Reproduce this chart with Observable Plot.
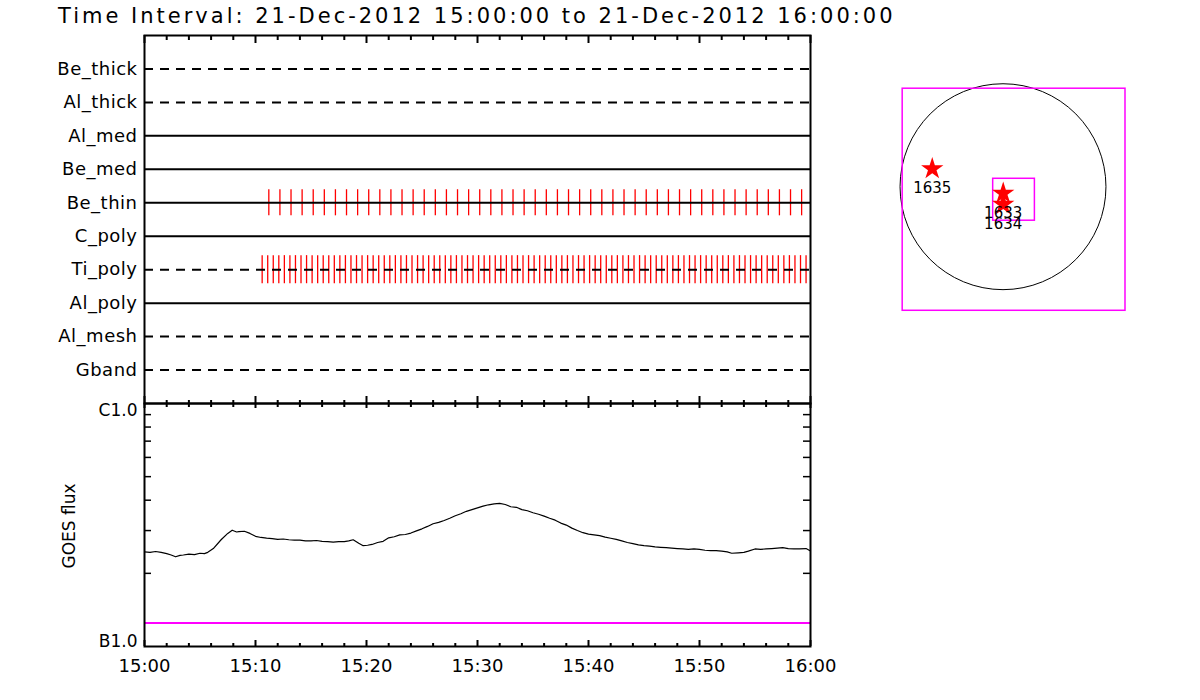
<!DOCTYPE html>
<html><head><meta charset="utf-8">
<script src="https://cdn.jsdelivr.net/npm/d3@7"></script>
<script src="https://cdn.jsdelivr.net/npm/@observablehq/plot@0.6"></script>
<style>
body{margin:0;background:#fff;}
#wrap{position:relative;width:1200px;height:700px;overflow:hidden;font-family:"DejaVu Sans";background:#fff;}
#title{position:absolute;left:58px;top:6px;font-size:21px;line-height:21px;letter-spacing:3px;white-space:nowrap;color:#000;font-family:"DejaVu Sans";}
.layer{position:absolute;}
.layer svg{overflow:visible;}
</style></head><body>
<div id="wrap"><div id="title"></div></div>
<script>
// ---------------- data ----------------
const titleText = "Time Interval: 21-Dec-2012 15:00:00 to 21-Dec-2012 16:00:00";
const filters = ["Be_thick","Al_thick","Al_med","Be_med","Be_thin","C_poly","Ti_poly","Al_poly","Al_mesh","Gband"];
const dashedFilters = ["Be_thick","Al_thick","Ti_poly","Al_mesh","Gband"];
// exposure times, minutes after 15:00
const beThinMinutes = [11.2,12.2,13.2,14.2,15.2,16.2,17.2,18.2,19.2,20.2,21.2,22.2,23.2,24.2,25.2,26.2,27.2,28.2,29.2,30.2,31.2,32.2,33.2,34.2,35.2,36.2,37.2,38.2,39.2,40.2,41.2,42.2,43.2,44.2,45.2,46.2,47.2,48.2,49.2,50.2,51.2,52.2,53.2,54.2,55.2,56.2,57.2,58.2,59.2];
const tiPolyMinutes = [10.6,11.1,11.6,12.1,12.6,13.1,13.6,14.1,14.6,15.1,15.6,16.1,16.6,17.1,17.6,18.1,18.6,19.1,19.6,20.1,20.6,21.1,21.6,22.1,22.6,23.1,23.6,24.1,24.6,25.1,25.6,26.1,26.6,27.1,27.6,28.1,28.6,29.1,29.6,30.1,30.6,31.1,31.6,32.1,32.6,33.1,33.6,34.1,34.6,35.1,35.6,36.1,36.6,37.1,37.6,38.1,38.6,39.1,39.6,40.1,40.6,41.1,41.6,42.1,42.6,43.1,43.6,44.1,44.6,45.1,45.6,46.1,46.6,47.1,47.6,48.1,48.6,49.1,49.6,50.1,50.6,51.1,51.6,52.1,52.6,53.1,53.6,54.1,54.6,55.1,55.6,56.1,56.6,57.1,57.6,58.1,58.6,59.1,59.6];
const xMajorMinutes = [0,10,20,30,40,50,60];
const xTickLabels = ["15:00","15:10","15:20","15:30","15:40","15:50","16:00"];
const xMinorMinutes = [2,4,6,8,12,14,16,18,22,24,26,28,32,34,36,38,42,44,46,48,52,54,56,58];
// GOES flux
const goesMinutes = [0,0.5,1,1.5,2,2.4,2.8,3.2,3.5,4,4.5,5,5.4,5.7,6.2,6.9,7.5,7.9,8.3,8.5,9,9.5,10,10.5,11,11.5,12,12.5,13,13.5,14,14.5,15,15.5,16,16.5,17,17.5,18,18.4,18.8,19.3,19.7,20.1,20.5,21,21.5,22,22.5,23,23.5,24,24.5,25,25.5,26,26.5,27,27.5,28,28.5,29,29.5,30,30.5,31,31.5,32,32.5,33,33.5,34,34.5,35,35.5,36,36.5,37,37.5,38,38.5,39,39.5,40,40.5,41,41.5,42,42.5,43,43.5,44,44.5,45,45.5,46,46.5,47,47.5,48,48.5,49,49.5,50,50.5,51,51.5,52,52.5,52.9,53.5,54,54.4,55,55.5,56,56.5,57,57.5,58,58.5,59,59.6,60];
const goesFlux = [2.45e-7,2.44e-7,2.46e-7,2.44e-7,2.41e-7,2.38e-7,2.34e-7,2.37e-7,2.38e-7,2.40e-7,2.39e-7,2.42e-7,2.41e-7,2.44e-7,2.53e-7,2.75e-7,2.92e-7,3.01e-7,2.96e-7,2.97e-7,2.98e-7,2.92e-7,2.84e-7,2.81e-7,2.79e-7,2.78e-7,2.76e-7,2.77e-7,2.75e-7,2.74e-7,2.74e-7,2.72e-7,2.72e-7,2.73e-7,2.71e-7,2.70e-7,2.69e-7,2.70e-7,2.70e-7,2.72e-7,2.75e-7,2.66e-7,2.60e-7,2.61e-7,2.63e-7,2.68e-7,2.71e-7,2.80e-7,2.83e-7,2.88e-7,2.89e-7,2.93e-7,2.99e-7,3.05e-7,3.12e-7,3.20e-7,3.24e-7,3.30e-7,3.37e-7,3.45e-7,3.52e-7,3.60e-7,3.66e-7,3.72e-7,3.78e-7,3.83e-7,3.86e-7,3.88e-7,3.84e-7,3.76e-7,3.74e-7,3.66e-7,3.62e-7,3.55e-7,3.50e-7,3.44e-7,3.37e-7,3.31e-7,3.22e-7,3.16e-7,3.07e-7,3.00e-7,2.94e-7,2.90e-7,2.88e-7,2.86e-7,2.82e-7,2.79e-7,2.76e-7,2.72e-7,2.68e-7,2.65e-7,2.62e-7,2.60e-7,2.59e-7,2.57e-7,2.56e-7,2.55e-7,2.54e-7,2.53e-7,2.52e-7,2.51e-7,2.52e-7,2.51e-7,2.49e-7,2.48e-7,2.48e-7,2.47e-7,2.45e-7,2.42e-7,2.43e-7,2.44e-7,2.47e-7,2.52e-7,2.51e-7,2.52e-7,2.53e-7,2.54e-7,2.55e-7,2.53e-7,2.52e-7,2.52e-7,2.53e-7,2.47e-7];
const goesThreshold = [1.25e-7];
const fluxDomain = [1e-7, 1e-6];
const fluxLabelValues = [1e-7, 1e-6];
const fluxLabelTexts = ["B1.0", "C1.0"];
const fluxMinorTicks = [2e-7,3e-7,4e-7,5e-7,6e-7,7e-7,8e-7,9e-7];
const goesAxisLabel = "GOES flux";
// solar disk inset (arcsec)
const diskRadiusArcsec = 975;
const arNumbers = ["1635","1633","1634"];
const arX = [-670, 2, 2];
const arY = [170, -62, -168];
const boxX1 = [-950, -93];
const boxX2 = [1160, 302];
const boxY1 = [-1175, -322];
const boxY2 = [928, 75];

// ---------------- build ----------------
document.getElementById("title").textContent = titleText;
const wrap = document.getElementById("wrap");
function place(node, left, top) {
  const d = document.createElement("div");
  d.className = "layer"; d.style.left = left + "px"; d.style.top = top + "px";
  d.appendChild(node); wrap.appendChild(d);
}
const FONT = "font-family: 'DejaVu Sans'; background: transparent; color: black; overflow: visible;";
const plotH = 368; // frame height of top panel in px (35..403)
const botH = 243;  // frame height of bottom panel (403..646)

// row index: 1 = top row
const rowOf = name => filters.indexOf(name) + 1;
const rowTicks = filters.map((f, i) => i + 1);
const solidRows = filters.filter(f => !dashedFilters.includes(f));
const dashedRows = filters.filter(f => dashedFilters.includes(f));

const topPlot = Plot.plot({
  width: 811, height: 410, marginLeft: 144, marginRight: 1, marginTop: 35, marginBottom: 7,
  style: FONT + " font-size: 18px; letter-spacing: 0.5px;",
  x: {domain: [0, 60], axis: null},
  y: {domain: [0, filters.length + 1], range: [35, 403]},
  marks: [
    Plot.ruleX(beThinMinutes, {x: d => d, y1: () => rowOf("Be_thin") - 0.39, y2: () => rowOf("Be_thin") + 0.39, stroke: "#ff0000", strokeWidth: 1.3}),
    Plot.ruleX(tiPolyMinutes, {x: d => d, y1: () => rowOf("Ti_poly") - 0.42, y2: () => rowOf("Ti_poly") + 0.42, stroke: "#ff0000", strokeWidth: 1.3}),
    Plot.ruleY(solidRows, {y: d => rowOf(d), stroke: "black", strokeWidth: 2}),
    Plot.ruleY(dashedRows, {y: d => rowOf(d), stroke: "black", strokeWidth: 2, strokeDasharray: "9,7"}),
    Plot.axisY({ticks: rowTicks, tickFormat: i => filters[i - 1], tickSize: 0, tickPadding: 7, fontSize: 18, label: null}),
    Plot.ruleX(xMinorMinutes, {x: d => d, insetBottom: plotH - 5, strokeWidth: 2}),
    Plot.ruleX(xMajorMinutes, {x: d => d, insetBottom: plotH - 8, strokeWidth: 2}),
    Plot.ruleX(xMinorMinutes, {x: d => d, insetTop: plotH - 3, strokeWidth: 2}),
    Plot.ruleX(xMajorMinutes, {x: d => d, insetTop: plotH - 7, strokeWidth: 2}),
    Plot.frame({stroke: "black", strokeWidth: 2})
  ]
});
place(topPlot, 0, 0);

const goes = goesMinutes.map((m, i) => ({m, f: goesFlux[i]}));
const botPlot = Plot.plot({
  width: 811, height: 700, marginLeft: 144, marginRight: 1, marginTop: 403, marginBottom: 54,
  style: FONT + " font-size: 18px;",
  x: {domain: [0, 60]},
  y: {type: "log", domain: fluxDomain, axis: null},
  marks: [
    Plot.ruleY(goesThreshold, {y: d => d, stroke: "#ff00ff", strokeWidth: 2}),
    Plot.line(goes, {x: "m", y: "f", stroke: "black", strokeWidth: 1.2}),
    Plot.ruleX(xMinorMinutes, {x: d => d, insetBottom: botH - 4, strokeWidth: 2}),
    Plot.ruleX(xMajorMinutes, {x: d => d, insetBottom: botH - 5, strokeWidth: 2}),
    Plot.ruleX(xMinorMinutes, {x: d => d, insetTop: botH - 3, strokeWidth: 2}),
    Plot.ruleX(xMajorMinutes, {x: d => d, insetTop: botH - 6, strokeWidth: 2}),
    Plot.ruleY(fluxMinorTicks, {y: d => d, insetRight: 666 - 7, strokeWidth: 1.5}),
    Plot.ruleY(fluxMinorTicks, {y: d => d, insetLeft: 666 - 7, strokeWidth: 1.5}),
    Plot.axisX({ticks: xMajorMinutes, tickFormat: d => xTickLabels[xMajorMinutes.indexOf(d)], tickSize: 0, tickPadding: 13, fontSize: 18, label: null}),
    Plot.text([fluxLabelTexts[1]], {y: () => fluxLabelValues[1], text: d => d, frameAnchor: "left", textAnchor: "end", dx: -7, lineAnchor: "top", fontSize: 17}),
    Plot.text([fluxLabelTexts[0]], {y: () => fluxLabelValues[0], text: d => d, frameAnchor: "left", textAnchor: "end", dx: -7, lineAnchor: "bottom", fontSize: 17}),
    Plot.text([goesAxisLabel], {text: d => d, frameAnchor: "left", textAnchor: "middle", dx: -75, dy: 1, rotate: -90, fontSize: 17, letterSpacing: 1}),
    Plot.frame({stroke: "black", strokeWidth: 2})
  ]
});
place(botPlot, 0, 0);

// inset
const xr = [16.9, 228.1], yr = [221.8, 10.6];
const pxPerArcsec = (xr[1] - xr[0]) / 2000;
const ars = arNumbers.map((n, i) => ({n, x: arX[i], y: arY[i]}));
const boxes = boxX1.map((v, i) => ({x1: v, x2: boxX2[i], y1: boxY1[i], y2: boxY2[i]}));
const inset = Plot.plot({
  width: 260, height: 250, margin: 0,
  style: FONT + " font-size: 15px;",
  x: {domain: [-1000, 1000], range: xr, axis: null},
  y: {domain: [-1000, 1000], range: yr, axis: null},
  marks: [
    Plot.dot([0], {x: () => 0, y: () => 0, r: diskRadiusArcsec * pxPerArcsec, stroke: "black", fill: "none", strokeWidth: 1}),
    Plot.rect(boxes, {x1: "x1", x2: "x2", y1: "y1", y2: "y2", stroke: "#ff00ff", fill: "none", strokeWidth: 1.5}),
    Plot.dot(ars, {x: "x", y: "y", symbol: "star", r: 7, fill: "#ff0000", stroke: "none"}),
    Plot.text(ars, {x: "x", y: "y", text: "n", dy: 19.5, fontSize: 15, fill: "black"})
  ]
});
place(inset, 880, 70);
</script>
</body></html>
